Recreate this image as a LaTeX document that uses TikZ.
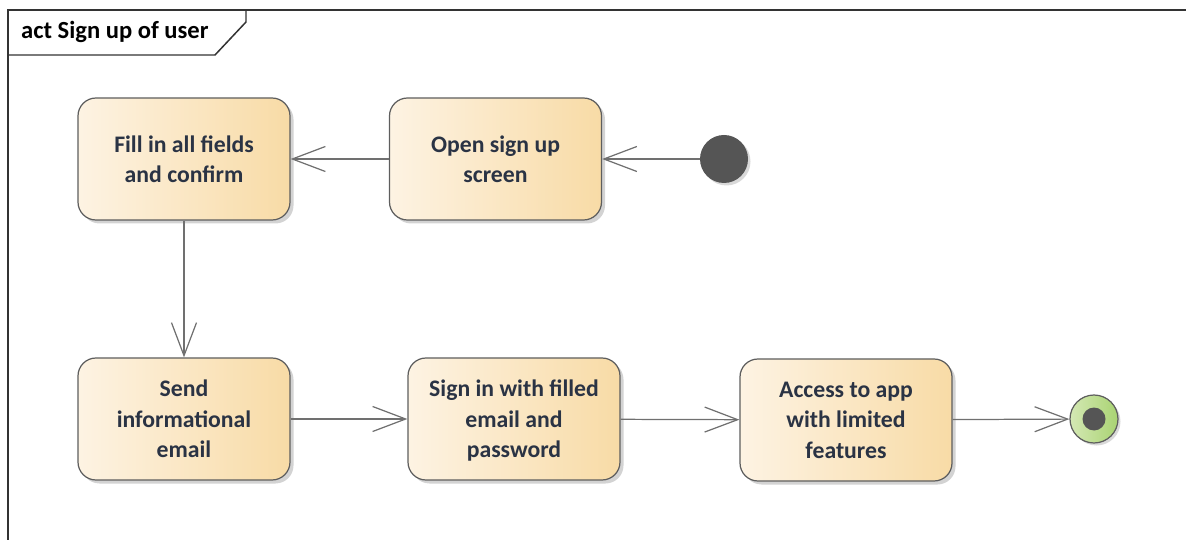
\documentclass[tikz,border=0pt]{standalone}
\usepackage{fontspec}
\setmainfont{Carlito}
\usetikzlibrary{arrows.meta, positioning, shadows}

\definecolor{boxleft}{HTML}{FDF3E3}
\definecolor{boxright}{HTML}{F8DBA6}
\definecolor{edgegray}{HTML}{5E5E5E}
\definecolor{linegray}{HTML}{707070}
\definecolor{textnavy}{HTML}{2A3344}
\definecolor{dotgray}{HTML}{555555}
\definecolor{endleft}{HTML}{D4E8B4}
\definecolor{endright}{HTML}{A9D372}

\begin{document}
\begin{tikzpicture}[
    >={Straight Barb[length=0.66cm, width=0.5cm]}, % Open arrow tip
    action/.style={draw=edgegray, line width=0.7pt, rounded corners=0.36cm,
        left color=boxleft, right color=boxright,
        minimum width=4.24cm, minimum height=2.44cm, align=center,
        text=textnavy, font=\bfseries\fontsize{13.5}{17.4}\selectfont,
        text depth=-6.5pt, % push text down a bit
        drop shadow={shadow xshift=0.07cm, shadow yshift=-0.07cm, opacity=0.35}}, % Activity box
    startdot/.style={circle, fill=dotgray, minimum size=0.96cm, inner sep=0pt,
        drop shadow={shadow xshift=0.05cm, shadow yshift=-0.05cm, opacity=0.3}}, % Initial node
    enddot/.style={circle, draw=edgegray, line width=0.7pt, left color=endleft,
        right color=endright, minimum size=0.96cm, inner sep=0pt,
        drop shadow={shadow xshift=0.05cm, shadow yshift=-0.05cm, opacity=0.3}}, % Final node
    flow/.style={->, draw=linegray, line width=0.7pt} % Control flow
]

    % Page size
    \useasboundingbox (0,0) rectangle (23.72,-10.8);

    % Frame and title tab
    \draw[line width=0.85pt, draw=black!80] (23.72,-0.2) -- (0.16,-0.2) -- (0.16,-10.8);
    \draw[line width=0.85pt, draw=black!80] (0.16,-1.1) -- (4.3,-1.1) -- (4.92,-0.44) -- (4.92,-0.2);
    \node[anchor=west, font=\bfseries\fontsize{14}{16}\selectfont] (title) at (0.3,-0.63) {act Sign up of user};

    % Top row
    \node[action] (fill) at (3.68,-3.18) {Fill in all fields\\and confirm};
    \node[action] (open) at (9.91,-3.18) {Open sign up\\screen};
    \node[startdot] (init) at (14.48,-3.18) {};

    % Bottom row
    \node[action] (send) at (3.68,-8.38) {Send\\informational\\email};
    \node[action] (signin) at (10.28,-8.38) {Sign in with filled\\email and\\password};
    \node[action] (access) at (16.92,-8.4) {Access to app\\with limited\\features};
    \node[enddot] (final) at (21.88,-8.38) {};
    \node[circle, fill=dotgray, minimum size=0.46cm, inner sep=0pt] (finalin) at (final) {};

    % Flows
    \draw[flow] (init) -- (open);
    \draw[flow] (open) -- (fill);
    \draw[flow] (fill) -- (send);
    \draw[flow] (send) -- (signin);
    \draw[flow] (signin) -- (access);
    \draw[flow] (access) -- (final);

\end{tikzpicture}
\end{document}
